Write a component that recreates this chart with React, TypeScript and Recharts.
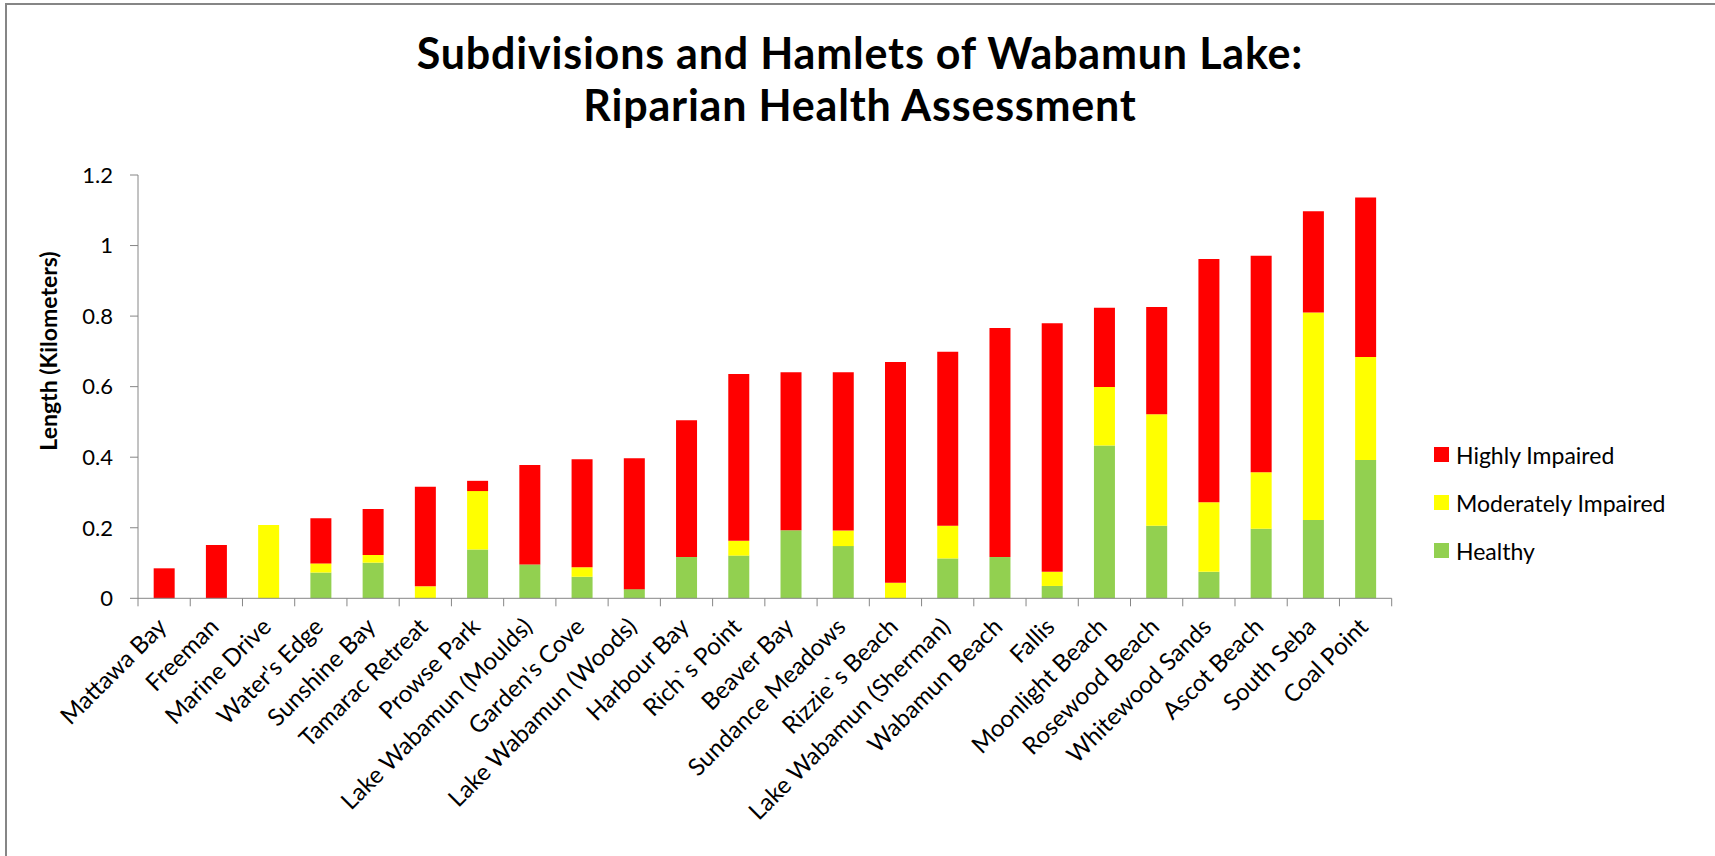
import { BarChart, Bar, XAxis, YAxis } from "recharts";

const categories = [
  "Mattawa Bay",
  "Freeman",
  "Marine Drive",
  "Water's Edge",
  "Sunshine Bay",
  "Tamarac Retreat",
  "Prowse Park",
  "Lake Wabamun (Moulds)",
  "Garden's Cove",
  "Lake Wabamun (Woods)",
  "Harbour Bay",
  "Rich`s Point",
  "Beaver Bay",
  "Sundance Meadows",
  "Rizzie`s Beach",
  "Lake Wabamun (Sherman)",
  "Wabamun Beach",
  "Fallis",
  "Moonlight Beach",
  "Rosewood Beach",
  "Whitewood Sands",
  "Ascot Beach",
  "South Seba",
  "Coal Point",
];

const healthy = [
  0, 0, 0, 0.073, 0.101, 0, 0.138, 0.096, 0.061, 0.026, 0.117, 0.121, 0.193,
  0.148, 0, 0.113, 0.117, 0.035, 0.433, 0.206, 0.075, 0.197, 0.222, 0.392,
];
const moderate = [
  0, 0, 0.208, 0.026, 0.022, 0.034, 0.166, 0, 0.027, 0, 0, 0.042, 0, 0.044,
  0.044, 0.093, 0, 0.04, 0.166, 0.316, 0.197, 0.16, 0.588, 0.292,
];
const high = [
  0.085, 0.151, 0, 0.128, 0.13, 0.282, 0.029, 0.282, 0.306, 0.371, 0.388,
  0.473, 0.448, 0.449, 0.626, 0.493, 0.649, 0.705, 0.225, 0.304, 0.69, 0.614,
  0.287, 0.452,
];

const yTicks = [0, 0.2, 0.4, 0.6, 0.8, 1, 1.2];

const SERIES = [
  { key: "Healthy", color: "#92D050" },
  { key: "Moderately Impaired", color: "#FFFF00" },
  { key: "Highly Impaired", color: "#FF0000" },
];

const data = categories.map((name, i) => ({
  name,
  Healthy: healthy[i],
  "Moderately Impaired": moderate[i],
  "Highly Impaired": high[i],
}));

const FONT = "Lato, 'Open Sans', sans-serif";
const AXIS = "#868686";
const W = 1715;
const H = 856;
const PLOT_LEFT = 138;
const PLOT_RIGHT = 1391.7;
const X_AXIS_H = 250;
const BOTTOM = 7.7;
const AXIS_Y = H - BOTTOM - X_AXIS_H;
const BAND = (PLOT_RIGHT - PLOT_LEFT) / categories.length;

// ticks sit between categories, like Excel
function XTick(props: any) {
  const { x, payload, index } = props;
  const half = payload?.offset || BAND / 2;
  const last = index === categories.length - 1;
  const tx = x + 4;
  const ty = AXIS_Y + 30;
  return (
    <g>
      <line
        x1={x - half}
        y1={AXIS_Y}
        x2={x - half}
        y2={AXIS_Y + 8}
        stroke={AXIS}
      />
      {last && (
        <line
          x1={x + half}
          y1={AXIS_Y}
          x2={x + half}
          y2={AXIS_Y + 8}
          stroke={AXIS}
        />
      )}
      <text
        x={tx}
        y={ty}
        textAnchor="end"
        transform={`rotate(-45 ${tx} ${ty})`}
        fontFamily={FONT}
        fontSize={24}
        fill="#000"
      >
        {payload.value}
      </text>
    </g>
  );
}

function YLabel() {
  return (
    <text
      transform="translate(57 351) rotate(-90)"
      textAnchor="middle"
      fontFamily={FONT}
      fontSize={23}
      fontWeight="bold"
      fill="#000"
    >
      Length (Kilometers)
    </text>
  );
}

export default function App() {
  return (
    <div
      style={{
        position: "absolute",
        left: 0,
        top: 0,
        width: W,
        height: H,
        overflow: "hidden",
        background: "#fff",
        fontFamily: FONT,
      }}
    >
      <div
        style={{
          position: "absolute",
          left: 5,
          top: 3,
          width: W + 20,
          height: H + 20,
          borderLeft: `2px solid ${AXIS}`,
          borderTop: `2px solid ${AXIS}`,
        }}
      />
      <div
        style={{
          position: "absolute",
          left: 0,
          top: 26.7,
          width: 1720,
          textAlign: "center",
          fontSize: 43,
          fontWeight: "bold",
          letterSpacing: 0.8,
          lineHeight: "52px",
          color: "#000",
        }}
      >
        Subdivisions and Hamlets of Wabamun Lake:
        <br />
        Riparian Health Assessment
      </div>
      <div style={{ position: "absolute", left: 0, top: 0 }}>
        <BarChart
          width={W}
          height={H}
          data={data}
          margin={{ top: 175, right: W - PLOT_RIGHT, bottom: BOTTOM, left: 60 }}
          barCategoryGap="30%"
        >
          <XAxis
            dataKey="name"
            interval={0}
            height={X_AXIS_H}
            tickLine={false}
            tickSize={0}
            tickMargin={0}
            axisLine={{ stroke: AXIS }}
            tick={<XTick />}
          />
          <YAxis
            width={78}
            domain={[0, 1.2]}
            ticks={yTicks}
            interval={0}
            tickSize={8}
            tickMargin={17}
            axisLine={{ stroke: AXIS }}
            tickLine={{ stroke: AXIS }}
            tick={{ fontFamily: FONT, fontSize: 22, fill: "#000" }}
            label={<YLabel />}
          />
          {SERIES.map((s) => (
            <Bar
              key={s.key}
              dataKey={s.key}
              stackId="a"
              fill={s.color}
              isAnimationActive={false}
            />
          ))}
        </BarChart>
      </div>
      {[...SERIES].reverse().map((s, i) => (
        <div
          key={s.key}
          style={{
            position: "absolute",
            left: 1434,
            top: 447 + i * 48,
            height: 15,
            display: "flex",
            alignItems: "center",
            whiteSpace: "nowrap",
          }}
        >
          <div style={{ width: 15, height: 15, background: s.color }} />
          <span style={{ marginLeft: 7, fontSize: 23, color: "#000" }}>
            {s.key}
          </span>
        </div>
      ))}
    </div>
  );
}
